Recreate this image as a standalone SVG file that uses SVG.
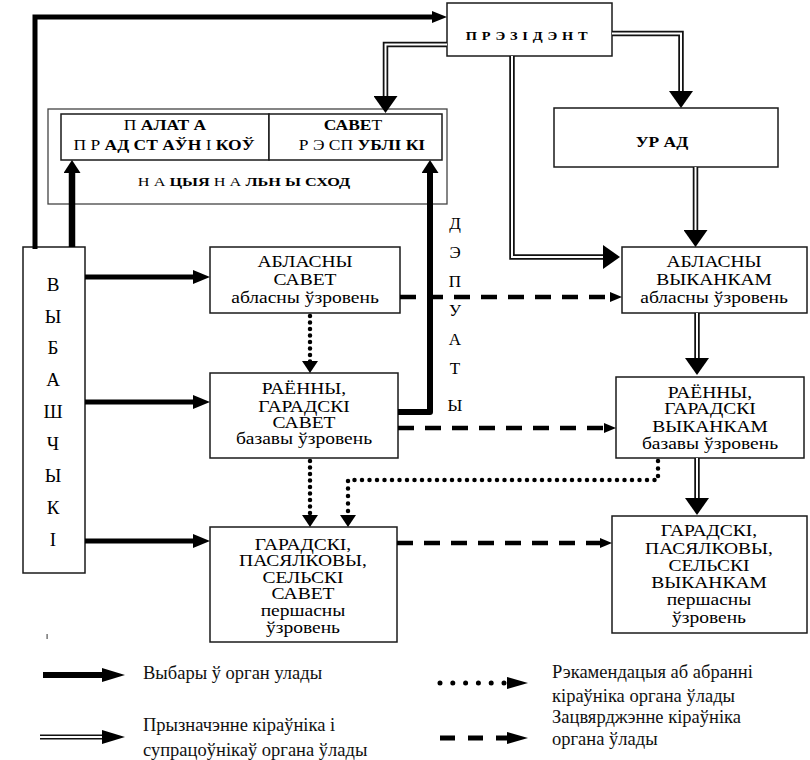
<svg xmlns="http://www.w3.org/2000/svg" width="810" height="760" viewBox="0 0 810 760">
<defs>
  <marker id="mT" markerUnits="userSpaceOnUse" markerWidth="17" markerHeight="14" viewBox="0 0 17 14" refX="2" refY="7" orient="auto"><path d="M0,0 L17,7 L0,14 Z" fill="#000"/></marker>
  <marker id="mTU" markerUnits="userSpaceOnUse" markerWidth="13" markerHeight="17" viewBox="0 0 13 17" refX="2" refY="8.5" orient="auto"><path d="M0,0 L13,8.5 L0,17 Z" fill="#000"/></marker>
  <marker id="mTP" markerUnits="userSpaceOnUse" markerWidth="15" markerHeight="12" viewBox="0 0 15 12" refX="2" refY="6" orient="auto"><path d="M0,0 L15,6 L0,12 Z" fill="#000"/></marker>
  <marker id="mD" markerUnits="userSpaceOnUse" markerWidth="17" markerHeight="24" viewBox="0 0 17 24" refX="2" refY="12" orient="auto"><path d="M0,0 L17,12 L0,24 Z" fill="#000"/></marker>
  <marker id="mDot" markerUnits="userSpaceOnUse" markerWidth="12" markerHeight="16" viewBox="0 0 12 16" refX="1" refY="8" orient="auto"><path d="M0,0 L12,8 L0,16 Z" fill="#000"/></marker>
  <marker id="mDash" markerUnits="userSpaceOnUse" markerWidth="12" markerHeight="10" viewBox="0 0 12 10" refX="1" refY="5" orient="auto"><path d="M0,0 L12,5 L0,10 Z" fill="#000"/></marker>
  <marker id="mL" markerUnits="userSpaceOnUse" markerWidth="23" markerHeight="14" viewBox="0 0 23 14" refX="2" refY="7" orient="auto"><path d="M0,0 L23,7 L0,14 Z" fill="#000"/></marker>
  <marker id="mLs" markerUnits="userSpaceOnUse" markerWidth="21" markerHeight="12" viewBox="0 0 21 12" refX="1" refY="6" orient="auto"><path d="M0,0 L21,6 L0,12 Z" fill="#000"/></marker>
</defs>
<rect width="810" height="760" fill="#fff"/>

<g id="president" font-family="Liberation Serif, serif" text-anchor="middle">
  <rect x="447" y="3" width="165" height="53" fill="#fff" stroke="#1a1a1a" stroke-width="1.5"/>
  <text font-weight="bold" font-size="12" letter-spacing="0.5" transform="matrix(1.2 0 0 1 527 40)">П Р Э З І Д Э Н Т</text>
</g>
<g id="nacyjanalny-shod" font-family="Liberation Serif, serif" text-anchor="middle">
  <rect x="48" y="109" width="399" height="95" fill="#fff" stroke="#444" stroke-width="1.3"/>
  <text font-weight="bold" font-size="13" transform="matrix(1.25 0 0 1 244 186)"><tspan font-weight="normal">Н А</tspan> ЦЫЯ <tspan font-weight="normal">Н А</tspan> ЛЬН Ы СХОД</text>
</g>
<g id="palata" font-family="Liberation Serif, serif" text-anchor="middle" font-weight="bold" font-size="14">
  <rect x="61" y="114" width="208" height="46" fill="#fff" stroke="#1a1a1a" stroke-width="1.5"/>
  <text transform="matrix(1.25 0 0 1 165 130)"><tspan font-weight="normal">П</tspan> АЛАТ А</text>
  <text transform="matrix(1.25 0 0 1 164 150)"><tspan font-weight="normal">П Р</tspan> АД СТ АЎН <tspan font-weight="normal">І</tspan> КОЎ</text>
</g>
<g id="savet-respubliki" font-family="Liberation Serif, serif" text-anchor="middle" font-weight="bold" font-size="14">
  <rect x="269" y="114" width="173" height="46" fill="#fff" stroke="#1a1a1a" stroke-width="1.5"/>
  <text transform="matrix(1.25 0 0 1 353 130)">САВЕ<tspan font-weight="normal">Т</tspan></text>
  <text transform="matrix(1.25 0 0 1 362 150)"><tspan font-weight="normal">Р Э СП</tspan> УБЛІ КІ</text>
</g>
<g id="urad" font-family="Liberation Serif, serif" text-anchor="middle">
  <rect x="554" y="108" width="224" height="59" fill="#fff" stroke="#1a1a1a" stroke-width="1.5"/>
  <text font-weight="bold" font-size="14" transform="matrix(1.25 0 0 1 662 147)">УР АД</text>
</g>
<g id="vybarshchyki" font-family="Liberation Serif, serif" text-anchor="middle" font-size="19">
  <rect x="23" y="247" width="62" height="326" fill="#fff" stroke="#1a1a1a" stroke-width="1.5"/>
  <text x="53" y="291">В</text>
  <text x="53" y="323">Ы</text>
  <text x="53" y="354">Б</text>
  <text x="53" y="386">А</text>
  <text x="53" y="418">Ш</text>
  <text x="53" y="450">Ч</text>
  <text x="53" y="482">Ы</text>
  <text x="53" y="514">К</text>
  <text x="53" y="546">І</text>
</g>
<g id="deputaty" font-family="Liberation Serif, serif" text-anchor="middle" font-size="17">
  <text x="455" y="229">Д</text>
  <text x="455" y="258">Э</text>
  <text x="455" y="287">П</text>
  <text x="455" y="316">У</text>
  <text x="455" y="345">А</text>
  <text x="455" y="374">Т</text>
  <text x="455" y="411">Ы</text>
</g>
<g id="ablasny-savet" font-family="Liberation Serif, serif" text-anchor="middle" font-size="16">
  <rect x="210" y="247" width="190" height="66" fill="#fff" stroke="#1a1a1a" stroke-width="1.5"/>
  <text transform="matrix(1.22 0 0 1 305 267)">АБЛАСНЫ</text>
  <text transform="matrix(1.22 0 0 1 305 285)">САВЕТ</text>
  <text transform="matrix(1.22 0 0 1 305 303)">абласны ўзровень</text>
</g>
<g id="rajonny-savet" font-family="Liberation Serif, serif" text-anchor="middle" font-size="16">
  <rect x="210" y="373" width="188" height="85" fill="#fff" stroke="#1a1a1a" stroke-width="1.5"/>
  <text transform="matrix(1.22 0 0 1 304 394)">РАЁННЫ,</text>
  <text transform="matrix(1.22 0 0 1 304 412)">ГАРАДСКІ</text>
  <text transform="matrix(1.22 0 0 1 304 428)">САВЕТ</text>
  <text transform="matrix(1.22 0 0 1 304 444)">базавы ўзровень</text>
</g>
<g id="garadski-savet" font-family="Liberation Serif, serif" text-anchor="middle" font-size="16">
  <rect x="210" y="527" width="187" height="115" fill="#fff" stroke="#1a1a1a" stroke-width="1.5"/>
  <text transform="matrix(1.22 0 0 1 303 550)">ГАРАДСКІ,</text>
  <text transform="matrix(1.22 0 0 1 303 566)">ПАСЯЛКОВЫ,</text>
  <text transform="matrix(1.22 0 0 1 303 583)">СЕЛЬСКІ</text>
  <text transform="matrix(1.22 0 0 1 303 599)">САВЕТ</text>
  <text transform="matrix(1.22 0 0 1 303 616)">першасны</text>
  <text transform="matrix(1.22 0 0 1 303 633)">ўзровень</text>
</g>
<g id="ablasny-vykankam" font-family="Liberation Serif, serif" text-anchor="middle" font-size="16">
  <rect x="622" y="247" width="185" height="66" fill="#fff" stroke="#1a1a1a" stroke-width="1.5"/>
  <text transform="matrix(1.22 0 0 1 714 267)">АБЛАСНЫ</text>
  <text transform="matrix(1.22 0 0 1 714 285)">ВЫКАНКАМ</text>
  <text transform="matrix(1.22 0 0 1 714 303)">абласны ўзровень</text>
</g>
<g id="rajonny-vykankam" font-family="Liberation Serif, serif" text-anchor="middle" font-size="16">
  <rect x="616" y="377" width="188" height="81" fill="#fff" stroke="#1a1a1a" stroke-width="1.5"/>
  <text transform="matrix(1.22 0 0 1 710 398)">РАЁННЫ,</text>
  <text transform="matrix(1.22 0 0 1 710 414)">ГАРАДСКІ</text>
  <text transform="matrix(1.22 0 0 1 710 432)">ВЫКАНКАМ</text>
  <text transform="matrix(1.22 0 0 1 710 449)">базавы ўзровень</text>
</g>
<g id="garadski-vykankam" font-family="Liberation Serif, serif" text-anchor="middle" font-size="16">
  <rect x="612" y="516" width="195" height="117" fill="#fff" stroke="#1a1a1a" stroke-width="1.5"/>
  <text transform="matrix(1.22 0 0 1 709 536)">ГАРАДСКІ,</text>
  <text transform="matrix(1.22 0 0 1 709 554)">ПАСЯЛКОВЫ,</text>
  <text transform="matrix(1.22 0 0 1 709 571)">СЕЛЬСКІ</text>
  <text transform="matrix(1.22 0 0 1 709 588)">ВЫКАНКАМ</text>
  <text transform="matrix(1.22 0 0 1 709 605)">першасны</text>
  <text transform="matrix(1.22 0 0 1 709 623)">ўзровень</text>
</g>

<g id="connectors" fill="none">
  <g stroke="#000" stroke-width="5">
    <path d="M35,249 V17 H434" marker-end="url(#mTP)"/>
    <path d="M72,247 V171" stroke-width="6.5" marker-end="url(#mTU)"/>
    <path d="M85,277 H195" marker-end="url(#mT)"/>
    <path d="M85,402 H195" marker-end="url(#mT)"/>
    <path d="M85,541 H195" marker-end="url(#mT)"/>
    <path d="M398,412 H430 V171" stroke-width="6" stroke-linejoin="round" marker-end="url(#mTU)"/>
  </g>
  <g stroke="#111" stroke-width="5.5">
    <path d="M447,44.5 H385.5 V98"/>
    <path d="M612,33.5 H681 V93"/>
    <path d="M512,56 V257 H605"/>
    <path d="M695.5,167 V232"/>
    <path d="M697,313 V360"/>
    <path d="M697,458 V500"/>
  </g>
  <g stroke="#fff" stroke-width="2">
    <path d="M447,44.5 H385.5 V98" marker-end="url(#mD)"/>
    <path d="M612,33.5 H681 V93" marker-end="url(#mD)"/>
    <path d="M512,56 V257 H605" marker-end="url(#mD)"/>
    <path d="M695.5,167 V232" marker-end="url(#mD)"/>
    <path d="M697,313 V360" marker-end="url(#mD)"/>
    <path d="M697,458 V500" marker-end="url(#mD)"/>
  </g>
  <g stroke="#000" stroke-width="4.5" stroke-linecap="round" stroke-dasharray="0 6.5">
    <path d="M310,316 V362" marker-end="url(#mDot)"/>
    <path d="M310,461 V516" marker-end="url(#mDot)"/>
    <path d="M658,461 V480 H348 V516" stroke-dasharray="0 7.5" marker-end="url(#mDot)"/>
  </g>
  <g stroke="#000" stroke-width="4.5" stroke-dasharray="16 11">
    <path d="M400,297 H611" marker-end="url(#mDash)"/>
    <path d="M398,428 H605" marker-end="url(#mDash)"/>
    <path d="M397,543 H601" marker-end="url(#mDash)"/>
  </g>
</g>

<g id="legend" font-family="Liberation Serif, serif" font-size="18.5" fill="#111">
  <path d="M43,675 H104" fill="none" stroke="#000" stroke-width="6" marker-end="url(#mL)"/>
  <text x="143" y="679">Выбары ў орган улады</text>
  <path d="M40,737 H104" fill="none" stroke="#111" stroke-width="5"/>
  <path d="M40,737 H104" fill="none" stroke="#fff" stroke-width="1.8" marker-end="url(#mL)"/>
  <text x="143" y="731">Прызначэнне кіраўніка і</text>
  <text x="143" y="756">супрацоўнікаў органа ўлады</text>
  <path d="M440,683 H508" fill="none" stroke="#000" stroke-width="5" stroke-linecap="round" stroke-dasharray="0 12.8" marker-end="url(#mLs)"/>
  <text x="552" y="678">Рэкамендацыя аб абранні</text>
  <text x="552" y="702">кіраўніка органа ўлады</text>
  <path d="M440,738 H508" fill="none" stroke="#000" stroke-width="5" stroke-dasharray="15 13" marker-end="url(#mLs)"/>
  <text x="552" y="723">Зацвярджэнне кіраўніка</text>
  <text x="552" y="745">органа ўлады</text>
</g>
<rect x="46.5" y="634" width="1.2" height="5" fill="#555"/>
</svg>
